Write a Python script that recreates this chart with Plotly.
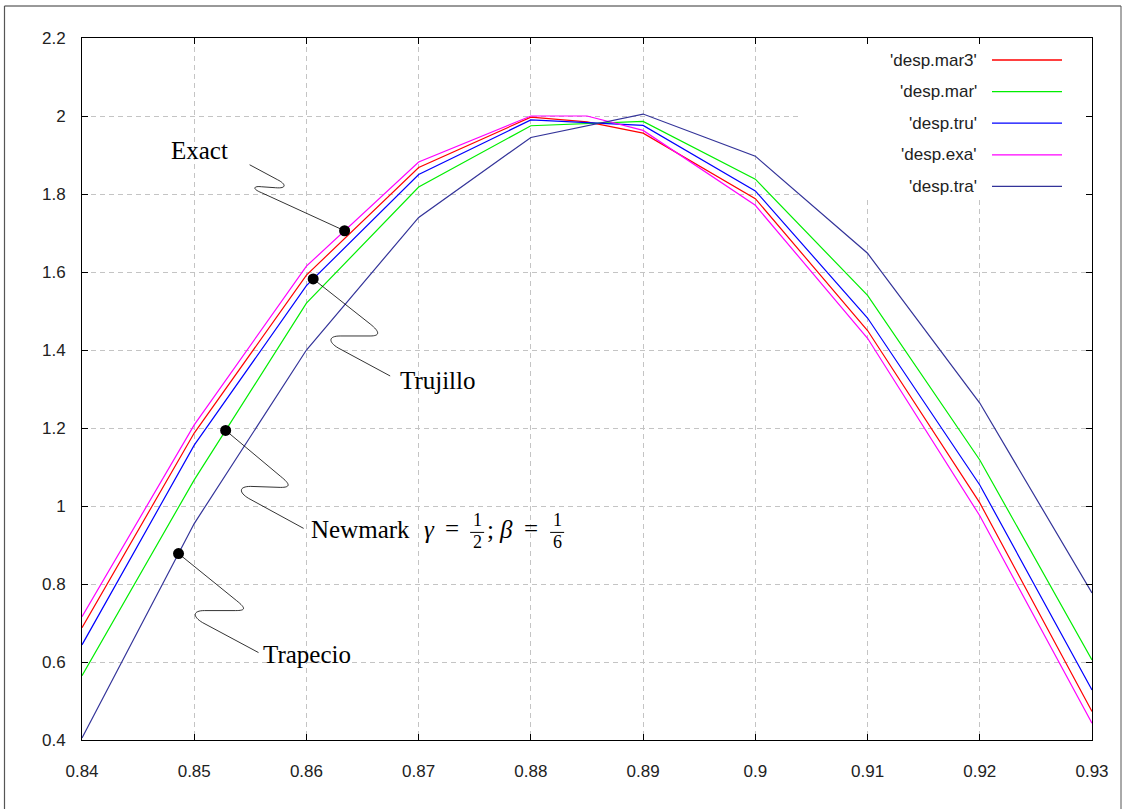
import numpy as np
import plotly.graph_objects as go

# ---------------- data ----------------
x_main = [0.84, 0.85, 0.86, 0.87, 0.88, 0.89, 0.90, 0.91, 0.92, 0.93]
x_fine = [0.84, 0.85, 0.86, 0.87, 0.88, 0.885, 0.89, 0.90, 0.91, 0.92, 0.93]

desp_mar3 = [0.688, 1.187, 1.592, 1.868, 1.997, 1.985, 1.956, 1.788, 1.450, 1.008, 0.473]
desp_exa = [0.716, 1.208, 1.615, 1.882, 2.000, 2.000, 1.963, 1.771, 1.430, 0.975, 0.443]
desp_mar = [0.565, 1.067, 1.520, 1.818, 1.975, 1.986, 1.838, 1.540, 1.118, 0.605]
desp_tru = [0.644, 1.156, 1.565, 1.850, 1.990, 1.976, 1.808, 1.482, 1.054, 0.528]
desp_tra = [0.405, 0.955, 1.400, 1.740, 1.945, 2.005, 1.897, 1.648, 1.264, 0.777]

series_names = ["'desp.mar3'", "'desp.mar'", "'desp.tru'", "'desp.exa'", "'desp.tra'"]
series_x = [x_fine, x_main, x_main, x_fine, x_main]
series_y = [desp_mar3, desp_mar, desp_tru, desp_exa, desp_tra]
series_colors = ["#ff0000", "#00ee00", "#0000ff", "#ff00ff", "#333399"]

x_ticks = [0.84, 0.85, 0.86, 0.87, 0.88, 0.89, 0.90, 0.91, 0.92, 0.93]
x_tick_labels = ["0.84", "0.85", "0.86", "0.87", "0.88", "0.89", "0.9", "0.91", "0.92", "0.93"]
y_ticks = [0.4, 0.6, 0.8, 1.0, 1.2, 1.4, 1.6, 1.8, 2.0, 2.2]
y_tick_labels = ["0.4", "0.6", "0.8", "1", "1.2", "1.4", "1.6", "1.8", "2", "2.2"]

# annotated points: (label, series index, x position)
annot_labels = ["Exact", "Trujillo", "Newmark", "Trapecio"]
annot_series = [3, 2, 1, 4]
annot_x = [0.8634, 0.8606, 0.8528, 0.8486]

# ---------------- geometry helpers ----------------
W, H = 1127, 809
L, R, T, B = 82, 1092, 38, 740
XR = (0.84, 0.93)
YR = (0.4, 2.2)


def dx(px):
    return XR[0] + (px - L) / (R - L) * (XR[1] - XR[0])


def dy(py):
    return YR[0] + (B - py) / (B - T) * (YR[1] - YR[0])


def to_px(x, y):
    return (L + (x - XR[0]) / (XR[1] - XR[0]) * (R - L),
            B - (y - YR[0]) / (YR[1] - YR[0]) * (B - T))


def px_paper_x(px):
    return (px - L) / (R - L)


def px_paper_y(py):
    return (B - py) / (B - T)


fig = go.Figure()

for name, xs, ys, col in zip(series_names, series_x, series_y, series_colors):
    fig.add_trace(go.Scatter(x=xs, y=ys, mode="lines", name=name,
                             line=dict(color=col, width=1.2), showlegend=False,
                             hoverinfo="x+y"))

# annotation dots on the curves
dot_x, dot_y = [], []
for si, xa in zip(annot_series, annot_x):
    dot_x.append(xa)
    dot_y.append(float(np.interp(xa, series_x[si], series_y[si])))

fig.add_trace(go.Scatter(x=dot_x, y=dot_y, mode="markers",
                         marker=dict(color="black", size=11), showlegend=False,
                         hoverinfo="skip"))

# connector squiggles (pixel offsets relative to the dot)
conn_offsets = [
    [("L", [(-83, -38)]), ("C", [(-93, -42), (-91, -45), (-83, -44)]), ("L", [(-69, -43)]),
     ("C", [(-57, -42), (-59, -47), (-67, -51)]), ("L", [(-95, -66)])],
    [("L", [(57, 45)]), ("C", [(67, 53), (67, 57), (57, 57)]), ("L", [(27, 57)]),
     ("C", [(15, 57), (15, 63), (25, 69)]), ("L", [(77, 97)])],
    [("L", [(55, 46)]), ("C", [(65, 54), (65, 57), (55, 57)]), ("L", [(25, 56)]),
     ("C", [(13, 56), (13, 62), (23, 68)]), ("L", [(78, 98)])],
    [("L", [(58, 47)]), ("C", [(68, 55), (67, 57), (57, 57)]), ("L", [(26, 57)]),
     ("C", [(14, 57), (14, 63), (24, 69)]), ("L", [(80, 99)])],
]

shapes = []
for xd, yd, offs in zip(dot_x, dot_y, conn_offsets):
    px, py = to_px(xd, yd)
    path = f"M{xd:.6f},{yd:.5f}"
    for cmd, pts in offs:
        path += " " + cmd + " ".join(f"{dx(px + a):.6f},{dy(py + b):.5f}" for a, b in pts)
    shapes.append(dict(type="path", path=path, xref="x", yref="y",
                       line=dict(color="black", width=0.8), layer="above"))

# white key area hiding the grid (as gnuplot does)
shapes.append(dict(type="rect", xref="x", yref="y", x0=dx(800), x1=dx(R), y0=dy(200), y1=dy(T),
                   fillcolor="white", line=dict(width=0), layer="between"))

# outer frame
shapes.append(dict(type="line", xref="paper", yref="paper",
                   x0=px_paper_x(4.5), x1=px_paper_x(1121), y0=px_paper_y(6), y1=px_paper_y(6),
                   line=dict(color="#333333", width=1)))
shapes.append(dict(type="line", xref="paper", yref="paper",
                   x0=px_paper_x(4.5), x1=px_paper_x(4.5), y0=px_paper_y(6), y1=px_paper_y(815),
                   line=dict(color="#555555", width=1.2)))
shapes.append(dict(type="line", xref="paper", yref="paper",
                   x0=px_paper_x(1121), x1=px_paper_x(1121), y0=px_paper_y(6), y1=px_paper_y(815),
                   line=dict(color="#555555", width=1)))

# key (legend) entries: text right aligned, sample line on the right
annotations = []
for i, (name, col) in enumerate(zip(series_names, series_colors)):
    yy = 60 + 31.6 * i
    annotations.append(dict(x=dx(979), y=dy(yy), xref="x", yref="y", text=name,
                            showarrow=False, xanchor="right", yanchor="middle",
                            font=dict(family="Liberation Sans, Arial", size=17, color="#222222")))
    shapes.append(dict(type="line", xref="x", yref="y", x0=dx(992), x1=dx(1062),
                       y0=dy(yy), y1=dy(yy), line=dict(color=col, width=1.3), layer="above"))

serif = dict(family="Liberation Serif, Times New Roman, serif", size=25, color="black")
serif_small = dict(family="Liberation Serif, Times New Roman, serif", size=18, color="black")

# text labels, positioned relative to the dots
label_offsets = {"Exact": (-115, -80, "right"), "Trujillo": (85, 102, "left"),
                 "Trapecio": (82, 101, "left")}
for lab, xd, yd in zip(annot_labels, dot_x, dot_y):
    px, py = to_px(xd, yd)
    if lab in label_offsets:
        ox, oy, anc = label_offsets[lab]
        annotations.append(dict(x=dx(px + ox), y=dy(py + oy), xref="x", yref="y", text=lab,
                                showarrow=False, xanchor=anc, yanchor="middle", font=serif))
    elif lab == "Newmark":
        bx, by = px + 83, py + 99   # left edge / vertical centre of the label
        annotations.append(dict(x=dx(bx), y=dy(by), xref="x", yref="y", text="Newmark",
                                showarrow=False, xanchor="left", yanchor="middle", font=serif))
        pieces = [("<i>γ</i>", 120.5, 0, serif), ("=", 143, -1, serif),
                  ("1", 168.5, -9, serif_small), ("2", 168.5, 13, serif_small),
                  (";", 182, 0, serif), ("<i>β</i>", 197.5, 0, serif), ("=", 222, -1, serif),
                  ("1", 248.5, -9, serif_small), ("6", 248.5, 13, serif_small)]
        for txt, ox, oy, f in pieces:
            annotations.append(dict(x=dx(bx + ox), y=dy(by + oy), xref="x", yref="y", text=txt,
                                    showarrow=False, xanchor="center", yanchor="middle", font=f))
        for cx in (168.5, 248.5):
            shapes.append(dict(type="line", xref="x", yref="y", x0=dx(bx + cx - 7),
                               x1=dx(bx + cx + 7), y0=dy(by + 3), y1=dy(by + 3),
                               line=dict(color="black", width=1)))

axis_common = dict(showline=True, linecolor="black", linewidth=1, mirror="ticks",
                   ticks="inside", ticklen=6, tickcolor="black", showgrid=True,
                   gridcolor="#c4c4c4", griddash="5px,4px", gridwidth=1, zeroline=False,
                   tickfont=dict(family="Liberation Sans, Arial", size=17, color="#222222"))

fig.update_xaxes(range=list(XR), tickvals=x_ticks, ticktext=x_tick_labels,
                 ticklabelstandoff=16, **axis_common)
fig.update_yaxes(range=list(YR), tickvals=y_ticks, ticktext=y_tick_labels,
                 ticklabelstandoff=12, **axis_common)

fig.update_layout(width=W, height=H, margin=dict(l=L, r=W - R, t=T, b=H - B),
                  plot_bgcolor="white", paper_bgcolor="white", showlegend=False,
                  shapes=shapes, annotations=annotations)

fig.write_html("out.html")
